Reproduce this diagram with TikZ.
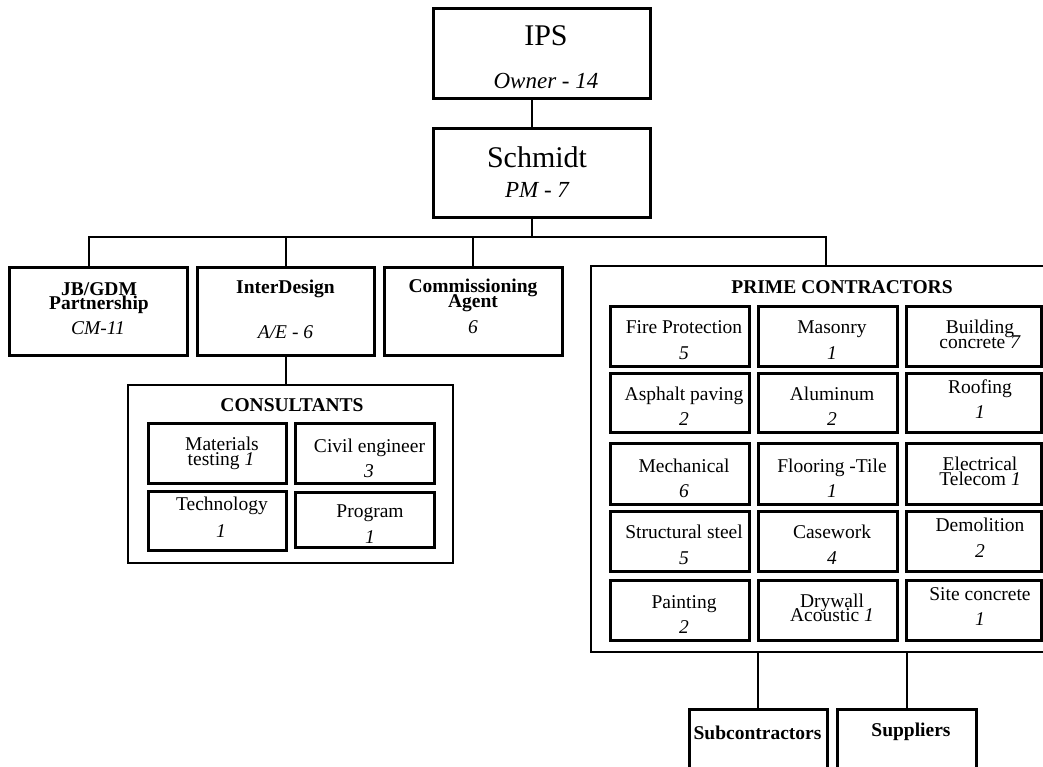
\documentclass[tikz,border=0pt]{standalone}
\usepackage{fontspec}
\setmainfont{Liberation Serif}
\tikzset{
  bx/.style={draw, line width=3pt, inner sep=0pt, outer sep=0pt, anchor=north west},
  outerbox/.style={bx, line width=2.5pt},
  conn/.style={line width=2pt},
  tx/.style={anchor=base, inner sep=0pt, outer sep=0pt},
}
\newcommand\fR{\fontsize{19.5}{20}\selectfont}
\newcommand\fB{\bfseries\fontsize{19.5}{20}\selectfont}
\newcommand\fI{\itshape\fontsize{19.5}{20}\selectfont}
\newcommand\fBig{\fontsize{30}{30}\selectfont}
\newcommand\fMid{\itshape\fontsize{23}{23}\selectfont}
\newcommand\mybox[6][bx]{\node[#1, minimum width={#5pt-#3pt}, minimum height={#6pt-#4pt}] (#2) at (#3,#4) {};}
\newcommand\mytx[5]{\node[tx, font=#2] (#1) at (#3,#4) {#5};}
\begin{document}
\begin{tikzpicture}[x=1pt,y=-1pt]
\useasboundingbox (0,0) rectangle (1043,766);
\fill[white] (0,0) rectangle (1043,766);
\clip (0,0) rectangle (1043,766);

% top boxes
\mybox{ips}{433}{8}{650}{98}
\mybox{schmidt}{433}{128}{650}{217}
\mytx{tips}{\fBig}{546}{45}{IPS}
\mytx{town}{\fMid}{546}{88}{Owner - 14}
\mytx{tsch}{\fBig}{537}{167}{Schmidt}
\mytx{tpm}{\fMid}{537}{197}{PM - 7}

% second level
\mybox{jb}{9}{267}{187}{355}
\mybox{inter}{197}{267}{374}{355}
\mybox{comm}{384}{267}{562}{355}
\mytx{tjb1}{\fB}{99}{295}{JB/GDM}
\mytx{tjb2}{\fB}{99}{309}{Partnership}
\mytx{tjb3}{\fI}{98}{334}{CM-11}
\mytx{tin1}{\fB}{285.5}{293}{InterDesign}
\mytx{tin2}{\fI}{285.5}{338}{A/E - 6}
\mytx{tco1}{\fB}{473}{292}{Commissioning}
\mytx{tco2}{\fB}{473}{307}{Agent}
\mytx{tco3}{\fI}{473}{333}{6}

% consultants
\mybox[outerbox]{cons}{128}{385}{453}{563}
\mytx{tcons}{\fB}{292}{411}{CONSULTANTS}
\mybox{ca}{148}{423}{286}{483}
\mybox{cb}{295}{423}{434}{483}
\mybox{cc}{148}{491}{286}{550}
\mybox{cd}{295}{492}{434}{547}
\mytx{tca1}{\fR}{222}{450}{Materials}
\mytx{tca2}{\fR}{221}{465}{testing \textit{1}}
\mytx{tcb1}{\fR}{369.5}{452}{Civil engineer}
\mytx{tcb2}{\fI}{369}{477}{3}
\mytx{tcc1}{\fR}{222}{510}{Technology}
\mytx{tcc2}{\fI}{221}{537}{1}
\mytx{tcd1}{\fR}{370}{517}{Program}
\mytx{tcd2}{\fI}{370}{543}{1}

% prime contractors
\mybox[outerbox]{prime}{591}{266}{1075}{652}
\mytx{tprime}{\fB}{842}{293}{PRIME CONTRACTORS}
% row 1
\mybox{p11}{610}{306}{749}{366}
\mybox{p12}{758}{306}{897}{366}
\mybox{p13}{906}{306}{1041}{366}
\mytx{t111}{\fR}{684}{333}{Fire Protection}
\mytx{t112}{\fI}{684}{359}{5}
\mytx{t121}{\fR}{832}{333}{Masonry}
\mytx{t122}{\fI}{832}{359}{1}
\mytx{t131}{\fR}{980}{333}{Building}
\mytx{t132}{\fR}{980}{348}{concrete \textit{7}}
% row 2
\mybox{p21}{610}{373}{749}{432}
\mybox{p22}{758}{373}{897}{432}
\mybox{p23}{906}{373}{1041}{432}
\mytx{t211}{\fR}{684}{400}{Asphalt paving}
\mytx{t212}{\fI}{684}{425}{2}
\mytx{t221}{\fR}{832}{400}{Aluminum}
\mytx{t222}{\fI}{832}{425}{2}
\mytx{t231}{\fR}{980}{393}{Roofing}
\mytx{t232}{\fI}{980}{418}{1}
% row 3
\mybox{p31}{610}{443}{749}{504}
\mybox{p32}{758}{443}{897}{504}
\mybox{p33}{906}{443}{1041}{504}
\mytx{t311}{\fR}{684}{472}{Mechanical}
\mytx{t312}{\fI}{684}{497}{6}
\mytx{t321}{\fR}{832}{472}{Flooring -Tile}
\mytx{t322}{\fI}{832}{497}{1}
\mytx{t331}{\fR}{980}{470}{Electrical}
\mytx{t332}{\fR}{980}{485}{Telecom \textit{1}}
% row 4
\mybox{p41}{610}{511}{749}{571}
\mybox{p42}{758}{511}{897}{571}
\mybox{p43}{906}{511}{1041}{571}
\mytx{t411}{\fR}{684}{538}{Structural steel}
\mytx{t412}{\fI}{684}{564}{5}
\mytx{t421}{\fR}{832}{538}{Casework}
\mytx{t422}{\fI}{832}{564}{4}
\mytx{t431}{\fR}{980}{531}{Demolition}
\mytx{t432}{\fI}{980}{557}{2}
% row 5
\mybox{p51}{610}{580}{749}{640}
\mybox{p52}{758}{580}{897}{640}
\mybox{p53}{906}{580}{1041}{640}
\mytx{t511}{\fR}{684}{608}{Painting}
\mytx{t512}{\fI}{684}{633}{2}
\mytx{t521}{\fR}{832}{607}{Drywall}
\mytx{t522}{\fR}{832}{621}{Acoustic \textit{1}}
\mytx{t531}{\fR}{980}{600}{Site concrete}
\mytx{t532}{\fI}{980}{625}{1}

% bottom
\mybox{sub}{689}{709}{827}{800}
\mybox{sup}{837}{709}{976}{800}
\mytx{tsub}{\fB}{757.5}{739}{Subcontractors}
\mytx{tsup}{\fB}{911}{736}{Suppliers}

% connectors
\coordinate (j0) at (532,237);
\coordinate (j1) at (89,237);
\coordinate (j2) at (286,237);
\coordinate (j3) at (473,237);
\coordinate (j4) at (826,237);
\draw[conn] (ips.south -| j0) -- (schmidt.north -| j0);
\draw[conn] (schmidt.south -| j0) -- (j0);
\draw[conn] (jb.north -| j1) -- (j1) -- (j4) -- (prime.north -| j4);
\draw[conn] (j2) -- (inter.north -| j2);
\draw[conn] (j3) -- (comm.north -| j3);
\draw[conn] (inter.south -| j2) -- (cons.north -| j2);
\draw[conn] (prime.south -| sub.north) -- (sub.north);
\draw[conn] (prime.south -| sup.north) -- (sup.north);
\end{tikzpicture}
\end{document}
